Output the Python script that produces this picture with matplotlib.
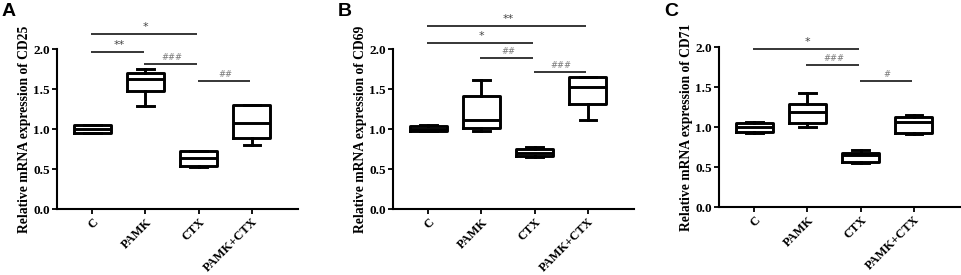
import matplotlib
matplotlib.use("Agg")
import matplotlib.pyplot as plt

categories = ["C", "PAMK", "CTX", "PAMK+CTX"]
panel_letters = ["A", "B", "C"]
ylabels = ["Relative mRNA expression of CD25",
           "Relative mRNA expression of CD69",
           "Relative mRNA expression of CD71"]
yticks = [0.0, 0.5, 1.0, 1.5, 2.0]

# Panel A (CD25)
a_whislo = [0.95, 1.29, 0.53, 0.80]
a_q1 = [0.955, 1.475, 0.54, 0.885]
a_med = [1.00, 1.625, 0.64, 1.075]
a_q3 = [1.05, 1.70, 0.72, 1.296]
a_whishi = [1.055, 1.746, 0.73, 1.30]
a_sig = [(0, 2, 2.19, "*"), (0, 1, 1.965, "**"), (1, 2, 1.81, "###"), (2, 3, 1.60, "##")]

# Panel B (CD69)
b_whislo = [0.97, 0.98, 0.645, 1.11]
b_q1 = [0.975, 1.01, 0.66, 1.31]
b_med = [1.00, 1.11, 0.70, 1.53]
b_q3 = [1.04, 1.41, 0.75, 1.645]
b_whishi = [1.05, 1.61, 0.78, 1.65]
b_sig = [(0, 3, 2.29, "**"), (0, 2, 2.08, "*"), (1, 2, 1.89, "##"), (2, 3, 1.71, "###")]

# Panel C (CD71)
c_whislo = [0.93, 0.995, 0.55, 0.91]
c_q1 = [0.94, 1.045, 0.56, 0.93]
c_med = [1.005, 1.19, 0.655, 1.06]
c_q3 = [1.055, 1.29, 0.68, 1.13]
c_whishi = [1.06, 1.43, 0.71, 1.155]
c_sig = [(0, 2, 1.98, "*"), (1, 2, 1.77, "###"), (2, 3, 1.58, "#")]

panels = [
    (a_whislo, a_q1, a_med, a_q3, a_whishi, a_sig),
    (b_whislo, b_q1, b_med, b_q3, b_whishi, b_sig),
    (c_whislo, c_q1, c_med, c_q3, c_whishi, c_sig),
]

W, H = 962, 275
fig = plt.figure(figsize=(W / 100, H / 100), dpi=100)

serif = "Liberation Serif"
lefts = [57, 393, 719]
ax_w = 241
y0_px = [209, 209, 207]
y2_px = [49, 49, 47]

for k, (wl, q1, md, q3, wh, sig) in enumerate(panels):
    left = lefts[k] / W
    bottom = (H - y0_px[k]) / H
    height = (y0_px[k] - y2_px[k]) / H
    ax = fig.add_axes([left, bottom, ax_w / W, height])
    stats = []
    for i in range(len(categories)):
        stats.append(dict(whislo=wl[i], q1=q1[i], med=md[i], q3=q3[i], whishi=wh[i],
                          label=categories[i]))
    lw = 2.1
    ax.bxp(stats, positions=range(len(categories)), widths=0.7, capwidths=0.31,
           showfliers=False, patch_artist=False,
           boxprops=dict(color="black", linewidth=lw),
           medianprops=dict(color="black", linewidth=lw),
           whiskerprops=dict(color="black", linewidth=lw),
           capprops=dict(color="black", linewidth=lw))
    ax.set_xlim(-0.665, 3.87)
    ax.set_ylim(0, 2.0)
    ax.set_yticks(yticks)
    ax.set_yticklabels([f"{t:.1f}" for t in yticks], fontfamily=serif,
                       fontweight="bold", fontsize=9.5)
    ax.set_xticks(range(len(categories)))
    ax.set_xticklabels(categories, rotation=45, ha="right", rotation_mode="anchor",
                       fontfamily=serif, fontweight="bold", fontsize=9)
    for s in ["top", "right"]:
        ax.spines[s].set_visible(False)
    for s in ["left", "bottom"]:
        ax.spines[s].set_linewidth(1.5)
    ax.tick_params(axis="both", direction="out", length=3.5, width=1.3, pad=1.5)
    ax.set_ylabel(ylabels[k], fontfamily=serif, fontweight="bold", fontsize=9.8,
                  labelpad=2)
    for (i, j, yv, txt) in sig:
        ax.plot([i - 0.02, j - 0.03], [yv, yv], color="black", linewidth=1.1,
                clip_on=False, solid_capstyle="butt")
        col = "#444444" if "*" in txt else "#777777"
        fs = 8 if "*" in txt else 6
        ax.annotate(txt, xy=((i + j) / 2, yv), xytext=(0, 1.5),
                    textcoords="offset points", ha="center", va="bottom",
                    fontsize=fs, color=col, fontfamily="DejaVu Sans",
                    style="normal" if "*" in txt else "italic",
                    annotation_clip=False)
    fig.text((lefts[k] - 55) / W, 1 - 3 / H, panel_letters[k],
             fontfamily="Liberation Sans", fontweight="bold", fontsize=14,
             ha="left", va="top")

fig.savefig("out.png", dpi=100)
